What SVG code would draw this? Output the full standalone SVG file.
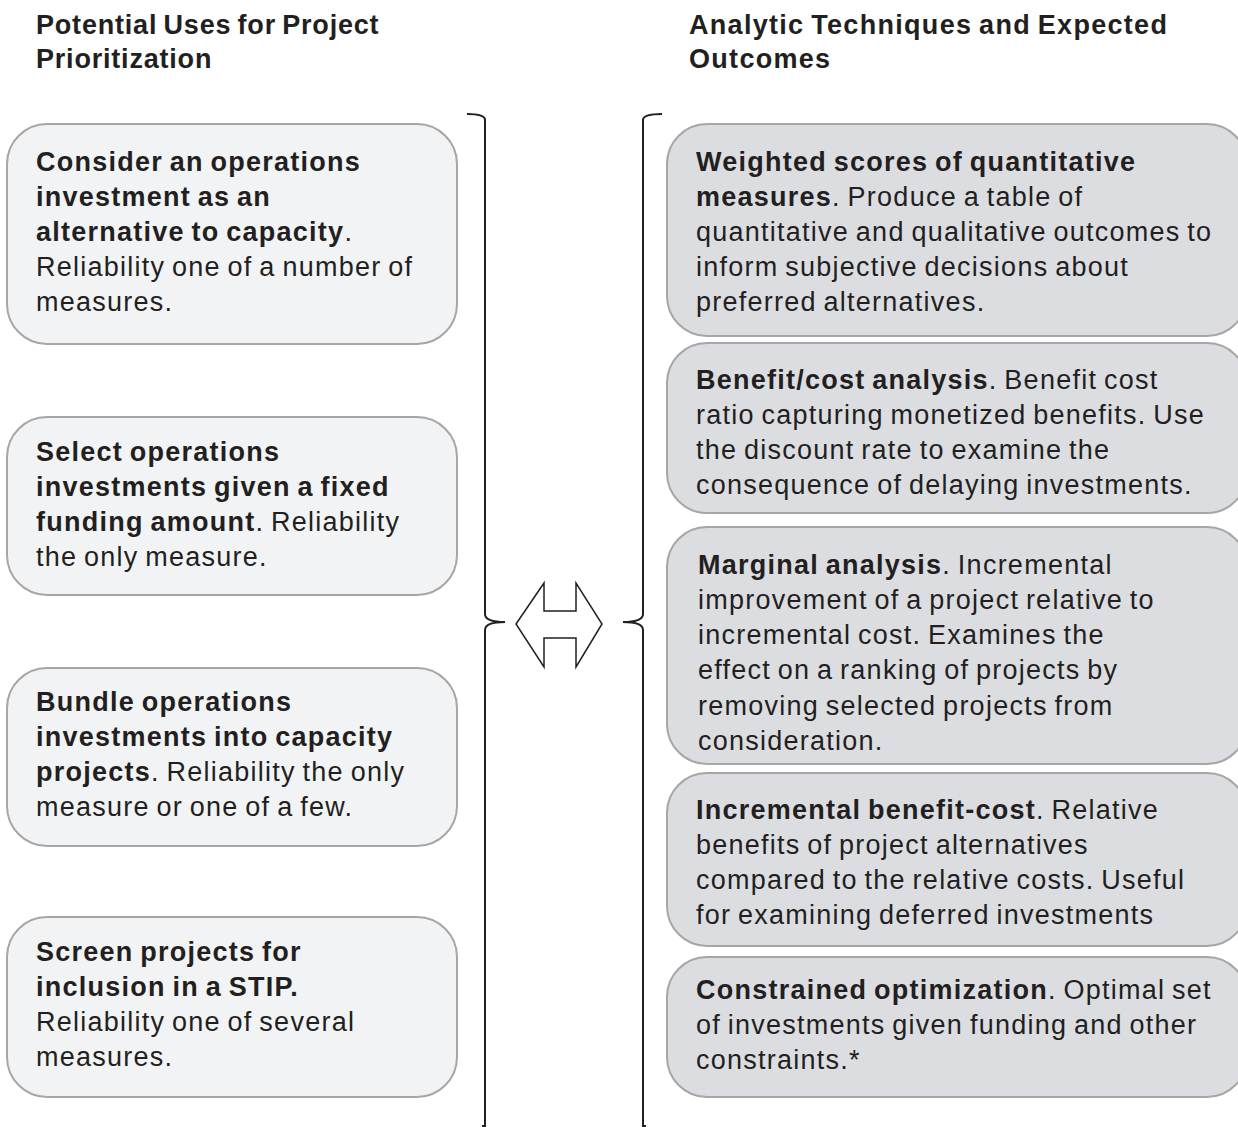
<svg xmlns="http://www.w3.org/2000/svg" width="1238" height="1127" viewBox="0 0 1238 1127">
<style>
text{font-family:"Liberation Sans",Arial,sans-serif;font-size:27px;letter-spacing:1.25px;word-spacing:-2px;fill:#231f20;}
.h{font-weight:bold;}
.b{font-weight:bold;}
.lbox{fill:#f2f3f5;stroke:#a6a6a6;stroke-width:2;}
.rbox{fill:#dcdde0;stroke:#a6a6a6;stroke-width:2;}
.br{fill:none;stroke:#231f20;stroke-width:2;}
</style>
<rect width="1238" height="1127" fill="#ffffff"/>
<g id="header-left">
<text class="h" x="36" y="34" style="letter-spacing:0.8px">Potential Uses for Project</text>
<text class="h" x="36" y="68" style="letter-spacing:0.8px">Prioritization</text>
</g>
<g id="header-right">
<text class="h" x="689" y="34" style="letter-spacing:1.3px">Analytic Techniques and Expected</text>
<text class="h" x="689" y="68" style="letter-spacing:1.3px">Outcomes</text>
</g>
<g id="left1">
<rect class="lbox" x="7" y="124" width="450" height="220" rx="40"/>
<text x="36" y="171"><tspan class="b">Consider an operations</tspan></text>
<text x="36" y="206"><tspan class="b">investment as an</tspan></text>
<text x="36" y="241"><tspan class="b">alternative to capacity</tspan>.</text>
<text x="36" y="276">Reliability one of a number of</text>
<text x="36" y="311">measures.</text>
</g>
<g id="left2">
<rect class="lbox" x="7" y="417" width="450" height="178" rx="40"/>
<text x="36" y="461"><tspan class="b">Select operations</tspan></text>
<text x="36" y="496"><tspan class="b">investments given a fixed</tspan></text>
<text x="36" y="531"><tspan class="b">funding amount</tspan>. Reliability</text>
<text x="36" y="566">the only measure.</text>
</g>
<g id="left3">
<rect class="lbox" x="7" y="668" width="450" height="178" rx="40"/>
<text x="36" y="711"><tspan class="b">Bundle operations</tspan></text>
<text x="36" y="746"><tspan class="b">investments into capacity</tspan></text>
<text x="36" y="781"><tspan class="b">projects</tspan>. Reliability the only</text>
<text x="36" y="816">measure or one of a few.</text>
</g>
<g id="left4">
<rect class="lbox" x="7" y="917" width="450" height="180" rx="40"/>
<text x="36" y="961"><tspan class="b">Screen projects for</tspan></text>
<text x="36" y="996"><tspan class="b">inclusion in a STIP.</tspan></text>
<text x="36" y="1031">Reliability one of several</text>
<text x="36" y="1066">measures.</text>
</g>
<g id="right1">
<rect class="rbox" x="667" y="124" width="580" height="212" rx="40"/>
<text x="696" y="171"><tspan class="b">Weighted scores of quantitative</tspan></text>
<text x="696" y="206"><tspan class="b">measures</tspan>. Produce a table of</text>
<text x="696" y="241">quantitative and qualitative outcomes to</text>
<text x="696" y="276">inform subjective decisions about</text>
<text x="696" y="311">preferred alternatives.</text>
</g>
<g id="right2">
<rect class="rbox" x="667" y="343" width="580" height="170" rx="40"/>
<text x="696" y="389"><tspan class="b">Benefit/cost analysis</tspan>. Benefit cost</text>
<text x="696" y="424">ratio capturing monetized benefits. Use</text>
<text x="696" y="459">the discount rate to examine the</text>
<text x="696" y="494">consequence of delaying investments.</text>
</g>
<g id="right3">
<rect class="rbox" x="667" y="527" width="580" height="237" rx="40"/>
<text x="698" y="574"><tspan class="b">Marginal analysis</tspan>. Incremental</text>
<text x="698" y="609">improvement of a project relative to</text>
<text x="698" y="644">incremental cost. Examines the</text>
<text x="698" y="679">effect on a ranking of projects by</text>
<text x="698" y="715">removing selected projects from</text>
<text x="698" y="750">consideration.</text>
</g>
<g id="right4">
<rect class="rbox" x="667" y="773" width="580" height="173" rx="40"/>
<text x="696" y="819"><tspan class="b">Incremental benefit-cost</tspan>. Relative</text>
<text x="696" y="854">benefits of project alternatives</text>
<text x="696" y="889">compared to the relative costs. Useful</text>
<text x="696" y="924">for examining deferred investments</text>
</g>
<g id="right5">
<rect class="rbox" x="667" y="957" width="580" height="140" rx="40"/>
<text x="696" y="999"><tspan class="b">Constrained optimization</tspan>. Optimal set</text>
<text x="696" y="1034">of investments given funding and other</text>
<text x="696" y="1069">constraints.*</text>
</g>
<g id="connectors">
<path class="br" d="M467,114 Q485,114 485,120 L485,614 Q485,622 505,622 Q485,622 485,630 L485,1126 L482,1126"/>
<path class="br" d="M662,114 Q643,114 643,120 L643,614 Q643,622 623,622 Q643,622 643,630 L643,1126 L646,1126"/>
<polygon id="double-arrow" points="516,624 544,583 544,611 576,611 576,583 602,624 576,667 576,638 544,638 544,667" fill="#ffffff" stroke="#231f20" stroke-width="1.5"/>
</g>
</svg>
